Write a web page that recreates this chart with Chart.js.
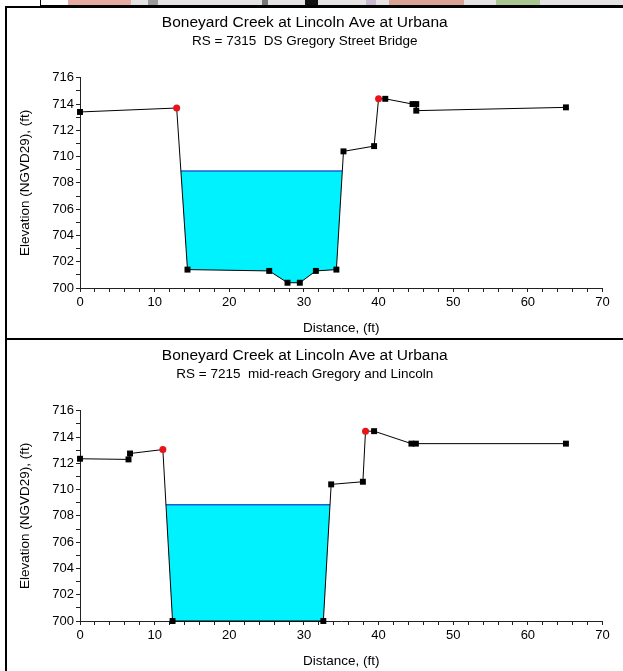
<!DOCTYPE html>
<html>
<head>
<meta charset="utf-8">
<script src="https://cdn.jsdelivr.net/npm/chart.js@4.4.1/dist/chart.umd.min.js"></script>
<style>
  body { margin: 0; background: #fff; }
  #page { position: relative; width: 623px; height: 671px; overflow: hidden; background: #fff; }
  .blk { position: absolute; }
  canvas { position: absolute; }
</style>
</head>
<body>
<div id="page">
  <!-- bit of the window that was above the plot in the screenshot -->
  <div class="blk" style="left:68px;top:0;width:555px;height:5px;background:#e4e2e2"></div>
  <div class="blk" style="left:68px;top:0;width:63px;height:5px;background:#e6aaa2"></div>
  <div class="blk" style="left:148px;top:0;width:10px;height:5px;background:#9a9a9a"></div>
  <div class="blk" style="left:262px;top:0;width:6px;height:5px;background:#777"></div>
  <div class="blk" style="left:305px;top:0;width:13px;height:5px;background:#111"></div>
  <div class="blk" style="left:366px;top:0;width:10px;height:5px;background:#c9b8d0"></div>
  <div class="blk" style="left:389px;top:0;width:75px;height:5px;background:#d9a292"></div>
  <div class="blk" style="left:496px;top:0;width:44px;height:5px;background:#a9c690"></div>
  <div class="blk" style="left:40px;top:0;width:1px;height:6px;background:#000"></div>
  <div class="blk" style="left:5px;top:6px;width:618px;height:2px;background:#000"></div>
  <div class="blk" style="left:40px;top:5px;width:583px;height:3px;background:#000"></div>
  <div class="blk" style="left:5px;top:6px;width:2px;height:665px;background:#000"></div>
  <div class="blk" style="left:5px;top:338px;width:618px;height:2px;background:#000"></div>
  <canvas id="c1" width="616" height="330" style="left:7px;top:8px"></canvas>
  <canvas id="c2" width="616" height="330" style="left:7px;top:341px"></canvas>
</div>
<script>
// titles
const plotTitle = "Boneyard Creek at Lincoln Ave at Urbana";
const xTitle = "Distance, (ft)";
const yTitle = "Elevation (NGVD29), (ft)";

// axis ticks (labelled ones)
const xTicks = [0, 10, 20, 30, 40, 50, 60, 70];
const yTicks = [700, 702, 704, 706, 708, 710, 712, 714, 716];

// RS 7315 - station / elevation of ground points
const rs7315Name = "RS = 7315  DS Gregory Street Bridge";
const rs7315Sta = [0, 12.95, 14.4, 25.35, 27.8, 29.45, 31.6, 34.35, 35.3, 39.4, 40.0, 40.9, 44.55, 45.05, 45.05, 65.1];
const rs7315Elev = [713.4, 713.7, 701.4, 701.3, 700.4, 700.4, 701.3, 701.4, 710.4, 710.8, 714.4, 714.4, 714.0, 714.0, 713.5, 713.75];
const rs7315Banks = [1, 10];          // bank station points (red)
const rs7315WsSta = [13.5, 35.15];    // water surface ends
const rs7315Ws = [708.9, 708.9];

// RS 7215
const rs7215Name = "RS = 7215  mid-reach Gregory and Lincoln";
const rs7215Sta = [0, 6.5, 6.7, 11.1, 12.4, 32.6, 33.65, 37.9, 38.25, 39.4, 44.4, 45.0, 65.1];
const rs7215Elev = [712.35, 712.3, 712.75, 713.05, 700.0, 700.0, 710.4, 710.6, 714.45, 714.45, 713.5, 713.5, 713.5];
const rs7215Banks = [3, 8];
const rs7215WsSta = [11.5, 33.5];
const rs7215Ws = [708.85, 708.85];

const FONT = "'Liberation Sans', Arial, sans-serif";
Chart.defaults.font.family = FONT;
Chart.defaults.color = "#000";

function makeChart(id, subtitle, sta, elev, banks, wsSta, ws) {
  let ground = sta.map((x, i) => ({ x: x, y: elev[i] }));
  let water = wsSta.map((x, i) => ({ x: x, y: ws[i] }));
  let isBank = sta.map((x, i) => banks.includes(i));

  new Chart(document.getElementById(id), {
    type: 'line',
    data: {
      datasets: [{
        label: 'Ground',
        data: ground,
        borderColor: '#000',
        borderWidth: 1,
        tension: 0,
        clip: false,
        pointStyle: isBank.map(b => b ? 'circle' : 'rect'),
        pointRadius: isBank.map(b => b ? 3.5 : 4.2),
        pointBackgroundColor: isBank.map(b => b ? '#e8141c' : '#000'),
        pointBorderColor: isBank.map(b => b ? '#e8141c' : '#000'),
        pointBorderWidth: 0
      }, {
        label: 'WS',
        data: water,
        borderColor: '#1f5fd6',
        borderWidth: 1.5,
        pointRadius: 0,
        backgroundColor: '#00f2ff',
        fill: 0
      }]
    },
    options: {
      responsive: false,
      animation: false,
      layout: { padding: { left: 0, right: 20.5, top: 0, bottom: 0 } },
      plugins: {
        legend: { display: false },
        tooltip: { enabled: false },
        title: {
          display: true,
          text: plotTitle,
          color: '#000',
          font: { family: FONT, size: 15.5, weight: 'normal' },
          padding: { top: 5, bottom: 2 }
        },
        subtitle: {
          display: true,
          text: subtitle,
          color: '#000',
          font: { family: FONT, size: 13.5, weight: 'normal' },
          padding: { top: 0, bottom: 28 }
        }
      },
      scales: {
        x: {
          type: 'linear',
          min: 0,
          max: 70,
          afterFit: s => { s.height = 50; },
          ticks: {
            stepSize: 2,
            autoSkip: false,
            maxRotation: 0,
            padding: 3,
            color: '#000',
            font: { size: 13 },
            callback: v => xTicks.includes(v) ? v : ''
          },
          grid: { drawOnChartArea: false, drawTicks: true, tickLength: 4, color: '#222' },
          border: { color: '#222', width: 1 },
          title: {
            display: true,
            text: xTitle,
            color: '#000',
            font: { size: 13.5 },
            padding: { top: 0, bottom: 1.5 }
          }
        },
        y: {
          type: 'linear',
          min: 700,
          max: 716,
          afterFit: s => { s.width = 73; },
          ticks: {
            stepSize: 1,
            autoSkip: false,
            padding: 2,
            color: '#000',
            font: { size: 13 },
            callback: v => yTicks.includes(v) ? v : ''
          },
          grid: { drawOnChartArea: false, drawTicks: true, tickLength: 4, color: '#222' },
          border: { color: '#222', width: 1 },
          title: {
            display: true,
            text: yTitle,
            color: '#000',
            font: { size: 13.5 },
            padding: { top: 10, bottom: 0 }
          }
        }
      }
    }
  });
}

makeChart('c1', rs7315Name, rs7315Sta, rs7315Elev, rs7315Banks, rs7315WsSta, rs7315Ws);
makeChart('c2', rs7215Name, rs7215Sta, rs7215Elev, rs7215Banks, rs7215WsSta, rs7215Ws);
</script>
</body>
</html>
